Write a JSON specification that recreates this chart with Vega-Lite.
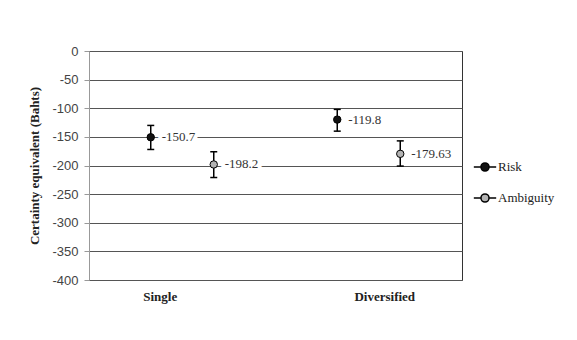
{
  "$schema": "https://vega.github.io/schema/vega-lite/v6.json",
  "width": 373,
  "height": 229,
  "autosize": "none",
  "padding": {"left": 89, "top": 51, "right": 115, "bottom": 60},
  "background": "white",
  "data": {
    "values": [
      {"group": "Single", "type": "Risk", "ce": -150.7, "lo": -172, "hi": -130, "label": "-150.7"},
      {"group": "Single", "type": "Ambiguity", "ce": -198.2, "lo": -221, "hi": -176, "label": "-198.2"},
      {"group": "Diversified", "type": "Risk", "ce": -119.8, "lo": -140, "hi": -102, "label": "-119.8"},
      {"group": "Diversified", "type": "Ambiguity", "ce": -179.63, "lo": -201, "hi": -157, "label": "-179.63"}
    ]
  },
  "encoding": {
    "x": {
      "field": "group", "type": "nominal", "sort": ["Single", "Diversified"],
      "scale": {"paddingInner": 0, "paddingOuter": 0},
      "axis": {"title": null, "domain": false, "ticks": false, "labelAngle": 0, "labelFont": "Liberation Serif", "labelFontWeight": "bold", "labelFontSize": 13, "labelColor": "#222", "labelPadding": 10, "grid": false, "labelOffset": {"expr": "datum.value === 'Single' ? -22 : 16"}}
    },
    "xOffset": {
      "field": "type", "type": "nominal", "sort": ["Risk", "Ambiguity"],
      "scale": {"paddingInner": 0, "paddingOuter": 0.48}
    }
  },
  "layer": [
    {
      "mark": {"type": "rule", "color": "black", "strokeWidth": 1.5},
      "encoding": {
        "y": {"field": "lo", "type": "quantitative", "title": "Certainty equivalent (Bahts)", "scale": {"domain": [-400, 0], "nice": false}, "axis": {"values": [0, -50, -100, -150, -200, -250, -300, -350, -400], "labelExpr": "'' + datum.value"}},
        "y2": {"field": "hi"}
      }
    },
    {
      "mark": {"type": "tick", "color": "black", "size": 7, "thickness": 1.5, "opacity": 1},
      "encoding": {"y": {"field": "lo", "type": "quantitative", "title": "Certainty equivalent (Bahts)", "axis": {"values": [0, -50, -100, -150, -200, -250, -300, -350, -400], "labelExpr": "'' + datum.value"}}}
    },
    {
      "mark": {"type": "tick", "color": "black", "size": 7, "thickness": 1.5, "opacity": 1},
      "encoding": {"y": {"field": "hi", "type": "quantitative", "title": "Certainty equivalent (Bahts)", "axis": {"values": [0, -50, -100, -150, -200, -250, -300, -350, -400], "labelExpr": "'' + datum.value"}}}
    },
    {
      "mark": {"type": "text", "align": "left", "baseline": "middle", "dx": 11, "font": "Liberation Serif", "fontSize": 13, "fill": "white", "stroke": "white", "strokeWidth": 8},
      "encoding": {"y": {"field": "ce", "type": "quantitative", "title": "Certainty equivalent (Bahts)", "axis": {"values": [0, -50, -100, -150, -200, -250, -300, -350, -400], "labelExpr": "'' + datum.value"}}, "text": {"field": "label"}}
    },
    {
      "mark": {"type": "text", "align": "left", "baseline": "middle", "dx": 11, "font": "Liberation Serif", "fontSize": 13, "color": "#333"},
      "encoding": {"y": {"field": "ce", "type": "quantitative", "title": "Certainty equivalent (Bahts)", "axis": {"values": [0, -50, -100, -150, -200, -250, -300, -350, -400], "labelExpr": "'' + datum.value"}}, "text": {"field": "label"}}
    },
    {
      "mark": {"type": "point", "filled": true, "size": 55, "stroke": "black", "strokeWidth": 1, "opacity": 1},
      "encoding": {
        "y": {"field": "ce", "type": "quantitative", "title": "Certainty equivalent (Bahts)", "axis": {"values": [0, -50, -100, -150, -200, -250, -300, -350, -400], "labelExpr": "'' + datum.value"}},
        "fill": {
          "field": "type", "type": "nominal",
          "scale": {"domain": ["Risk", "Ambiguity"], "range": ["#111111", "#b3b3b3"]},
          "legend": {
            "title": null, "orient": "none", "legendX": 384, "legendY": 104,
            "symbolType": "M-1,0L-0.36,0M0.36,0L1,0M-0.36,0A0.36,0.36,0,1,0,0.36,0A0.36,0.36,0,1,0,-0.36,0Z",
            "symbolSize": 500, "symbolStrokeColor": "black", "symbolStrokeWidth": 1.5,
            "labelFont": "Liberation Serif", "labelFontSize": 13, "labelColor": "#222", "labelOffset": 1, "rowPadding": 11
          }
        }
      }
    }
  ],
  "config": {
    "view": {"stroke": "#333", "strokeWidth": 1},
    "axisY": {
      "domainColor": "#999", "tickColor": "#999", "tickSize": 5, "labelFont": "Liberation Sans", "labelFontSize": 13, "labelColor": "#444", "labelPadding": 6,
      "gridColor": "#555", "gridWidth": 1, "titleFont": "Liberation Serif", "titleFontWeight": "bold", "titleFontSize": 13, "titleColor": "#222", "titlePadding": 10
    }
  }
}
